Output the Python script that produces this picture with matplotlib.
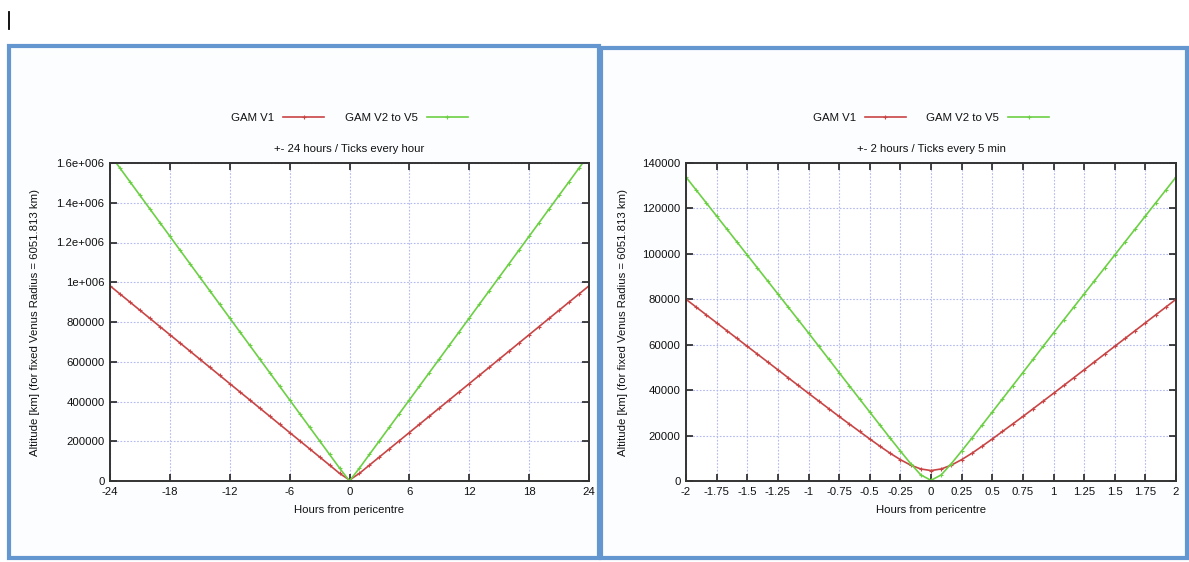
import numpy as np
import matplotlib
matplotlib.use("Agg")
import matplotlib.pyplot as plt
from matplotlib.patches import Rectangle
from matplotlib.lines import Line2D
from matplotlib.ticker import FuncFormatter

plt.rcParams['font.family'] = ['Liberation Sans', 'DejaVu Sans']

# ---------------- data ----------------
# Left panel: +-24 hours, one point every hour
hours_left = list(range(-24, 25))
v1_left = [982000, 941000, 900000, 859000, 818000, 777000, 736000, 695000, 654000, 613000,
           572000, 531000, 490000, 449000, 408000, 367000, 326000, 285000, 244000, 203000,
           162000, 121000, 80000, 38600, 4600, 38600, 80000, 121000, 162000, 203000,
           244000, 285000, 326000, 367000, 408000, 449000, 490000, 531000, 572000, 613000,
           654000, 695000, 736000, 777000, 818000, 859000, 900000, 941000, 982000]
v2_left = [1643000, 1574400, 1505800, 1437200, 1368600, 1300000, 1231400, 1162800, 1094200,
           1025600, 957000, 888400, 819800, 751200, 682600, 614000, 545400, 476800, 408200,
           339600, 271000, 202400, 133800, 65200, 300, 65200, 133800, 202400, 271000, 339600,
           408200, 476800, 545400, 614000, 682600, 751200, 819800, 888400, 957000, 1025600,
           1094200, 1162800, 1231400, 1300000, 1368600, 1437200, 1505800, 1574400, 1643000]

# Right panel: +-2 hours, one point every 5 minutes
minutes_right = list(range(-120, 125, 5))
v1_right = [80000, 76550, 73100, 69650, 66200, 62750, 59300, 55850, 52400, 48950, 45500,
            42050, 38600, 35200, 31800, 28400, 25100, 21800, 18500, 15300, 12200, 9400,
            7000, 5300, 4600, 5300, 7000, 9400, 12200, 15300, 18500, 21800, 25100, 28400,
            31800, 35200, 38600, 42050, 45500, 48950, 52400, 55850, 59300, 62750, 66200,
            69650, 73100, 76550, 80000]
v2_right = [133800, 128087, 122370, 116653, 110936, 105219, 99502, 93785, 88068, 82351,
            76634, 70917, 65178, 59362, 53548, 47738, 41934, 36139, 30355, 24592, 18862,
            13200, 7693, 2683, 300, 2683, 7693, 13200, 18862, 24592, 30355, 36139, 41934,
            47738, 53548, 59362, 65178, 70917, 76634, 82351, 88068, 93785, 99502, 105219,
            110936, 116653, 122370, 128087, 133800]

left_xticks = [-24, -18, -12, -6, 0, 6, 12, 18, 24]
left_yticks = [0, 200000, 400000, 600000, 800000, 1000000, 1200000, 1400000, 1600000]
left_ylabels = ["0", "200000", "400000", "600000", "800000", "1e+006", "1.2e+006",
                "1.4e+006", "1.6e+006"]
right_xticks = [-2, -1.75, -1.5, -1.25, -1, -0.75, -0.5, -0.25, 0, 0.25, 0.5, 0.75, 1,
                1.25, 1.5, 1.75, 2]
right_yticks = [0, 20000, 40000, 60000, 80000, 100000, 120000, 140000]

series_names = ["GAM V1", "GAM V2 to V5"]
titles = ["+- 24 hours / Ticks every hour", "+- 2 hours / Ticks every 5 min"]
xlabel = "Hours from pericentre"
ylabel = "Altitude [km] (for fixed Venus Radius = 6051.813 km)"

RED = "#c94545"
GREEN = "#6cd044"
FRAME = "#6497cf"
GRID = "#b4b9ee"
TXT = "#111111"

W, H = 1189, 562
fig = plt.figure(figsize=(W / 100, H / 100), dpi=100)
fig.patch.set_facecolor("white")


def px_rect(x0, y0, x1, y1):
    return [x0 / W, 1 - y1 / H, (x1 - x0) / W, (y1 - y0) / H]


# panel frames
for (x0, y0, x1, y1) in [(9, 46, 599, 558), (601, 48, 1187, 558)]:
    fig.patches.append(Rectangle((x0 / W, 1 - y1 / H), (x1 - x0) / W, (y1 - y0) / H,
                                 transform=fig.transFigure, facecolor="#fcfdff",
                                 edgecolor=FRAME, linewidth=3.0, zorder=-10))
# text cursor mark
fig.lines.append(Line2D([9 / W, 9 / W], [1 - 12 / H, 1 - 29 / H], transform=fig.transFigure,
                        color="black", linewidth=1.3, zorder=-10))

ax1 = fig.add_axes(px_rect(110, 163, 589, 481))
ax2 = fig.add_axes(px_rect(686, 163, 1176, 481))
ax1.set_zorder(5)
ax2.set_zorder(5)

x_right = np.array(minutes_right) / 60.0

FS = 8.2


def style(ax):
    ax.set_facecolor("white")
    ax.grid(True, color=GRID, linestyle=(0, (1.5, 1.5)), linewidth=0.8)
    ax.tick_params(direction="in", top=True, right=True, length=5, width=1.1,
                   labelsize=FS, colors=TXT, pad=4)
    for s in ax.spines.values():
        s.set_color("#333333")
        s.set_linewidth(1.4)
    ax.set_xlabel(xlabel, fontsize=FS, color=TXT, labelpad=6)
    ax.set_ylabel(ylabel, fontsize=FS, color=TXT, labelpad=12)


mk = dict(marker="+", markersize=3.5, linewidth=1.2, markeredgewidth=0.8)

# left
l1, = ax1.plot(hours_left, v1_left, color=RED, **mk)
l2, = ax1.plot(hours_left, v2_left, color=GREEN, **mk)
ax1.set_xlim(-24, 24)
ax1.set_ylim(0, 1600000)
ax1.set_xticks(left_xticks)
ax1.set_xticklabels([str(t) for t in left_xticks])
ax1.set_yticks(left_yticks)
ax1.set_yticklabels(left_ylabels)
style(ax1)

# right
r1, = ax2.plot(x_right, v1_right, color=RED, **mk)
r2, = ax2.plot(x_right, v2_right, color=GREEN, **mk)
ax2.set_xlim(-2, 2)
ax2.set_ylim(0, 140000)
ax2.set_xticks(right_xticks)
ax2.xaxis.set_major_formatter(FuncFormatter(lambda v, p: "%g" % v))
ax2.set_yticks(right_yticks)
ax2.set_yticklabels([str(t) for t in right_yticks])
style(ax2)
ax2.set_ylabel(ylabel, fontsize=FS, color=TXT, labelpad=10)

for ax, title, lines in [(ax1, titles[0], (l1, l2)), (ax2, titles[1], (r1, r2))]:
    ax.set_title(title, fontsize=FS, color=TXT, pad=8)
    ax.legend(lines, series_names, loc="lower center", bbox_to_anchor=(0.5, 1.093),
              ncol=2, frameon=False, markerfirst=False, fontsize=FS, handlelength=3.6,
              columnspacing=1.8, handletextpad=0.8, labelcolor=TXT)

fig.savefig("out.png", dpi=100)
